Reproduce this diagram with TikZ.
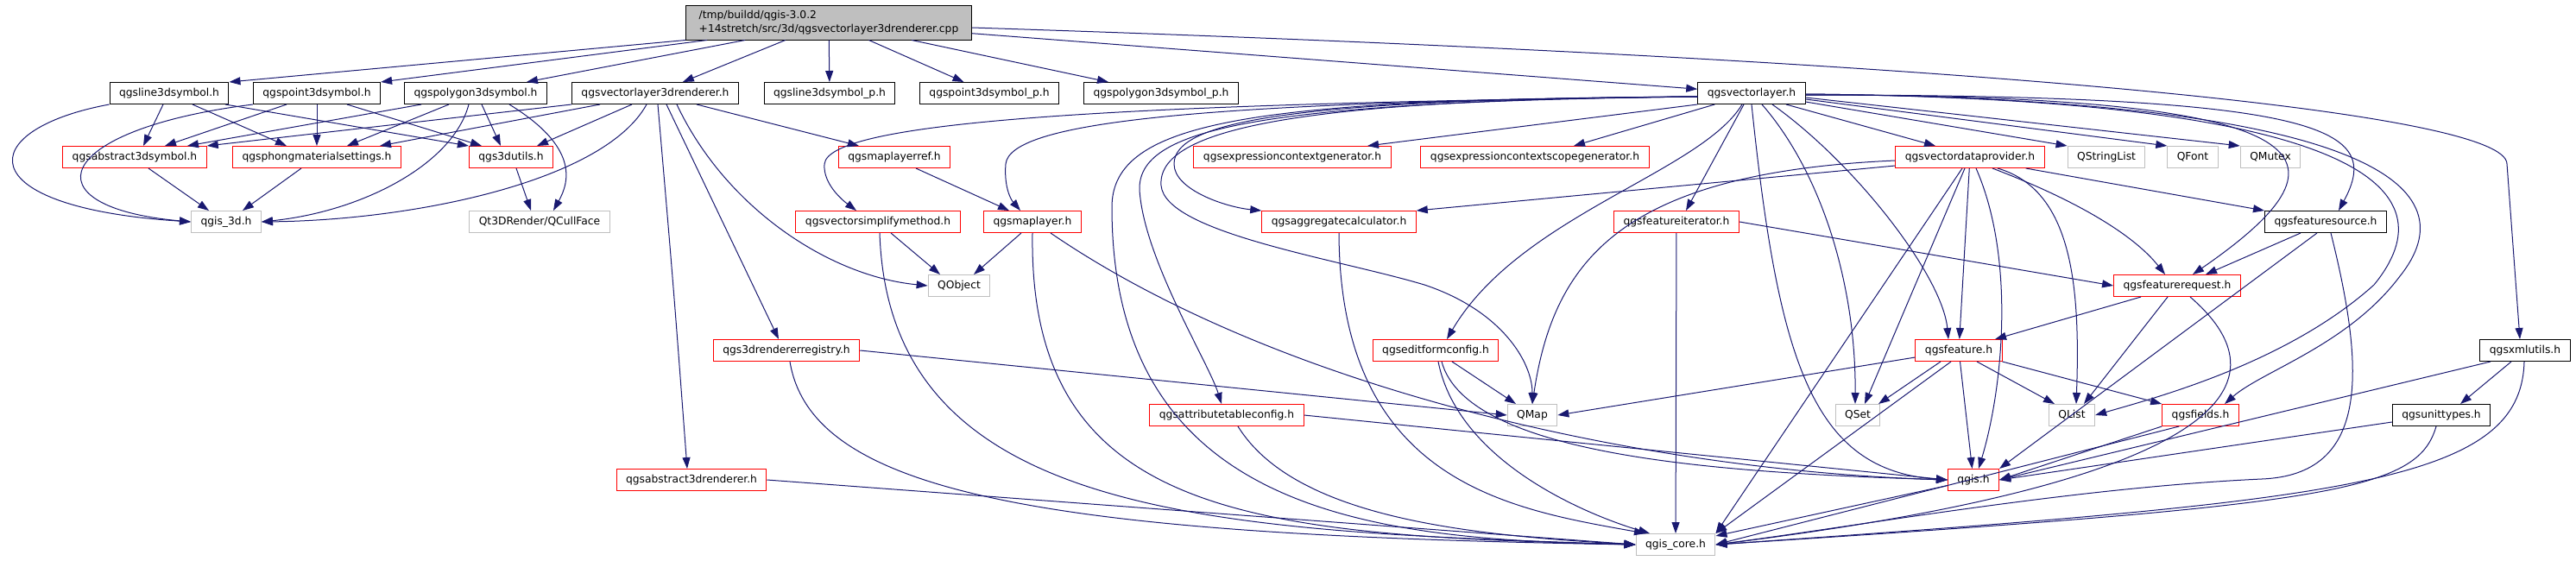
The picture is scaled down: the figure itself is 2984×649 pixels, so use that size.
\documentclass[tikz,border=0pt]{standalone}
\usepackage{fontspec}
\setmainfont{DejaVu Sans}
\usepackage{tikz}
\usetikzlibrary{arrows.meta}
\definecolor{edgeblue}{RGB}{25,25,112}
\definecolor{boxgray}{RGB}{191,191,191}

\begin{document}
\begin{tikzpicture}[x=1pt,y=-1pt,>={Triangle[length=13pt,width=9pt]},
  box/.style={draw,line width=1pt,inner xsep=11pt,inner ysep=0pt,minimum height=25pt,
    font=\fontsize{12.3}{15.5}\selectfont},
  blackbox/.style={box,draw=black},
  redbox/.style={box,draw=red},
  graybox/.style={box,draw=boxgray},
  mainbox/.style={box,draw=black,fill=boxgray,align=left,minimum width=331pt,minimum height=40pt,inner xsep=8pt},
  dep/.style={->,draw=edgeblue,line width=1pt}]
  \useasboundingbox (0,0) rectangle (2984,649);

  \node[mainbox] (main) at (960,26) {/tmp/buildd/qgis-3.0.2\\+14stretch/src/3d/qgsvectorlayer3drenderer.cpp};

  \node[blackbox] (line3d) at (196,108) {qgsline3dsymbol.h};
  \node[blackbox] (point3d) at (367,108) {qgspoint3dsymbol.h};
  \node[blackbox] (polygon3d) at (551,108) {qgspolygon3dsymbol.h};
  \node[blackbox] (vl3d) at (759,108) {qgsvectorlayer3drenderer.h};
  \node[blackbox] (line3dp) at (961,108) {qgsline3dsymbol\_p.h};
  \node[blackbox] (point3dp) at (1146,108) {qgspoint3dsymbol\_p.h};
  \node[blackbox] (polygon3dp) at (1345,108) {qgspolygon3dsymbol\_p.h};
  \node[blackbox] (vectorlayer) at (2029,108) {qgsvectorlayer.h};

  \node[redbox] (abstract3dsymbol) at (156,182) {qgsabstract3dsymbol.h};
  \node[redbox] (phong) at (367,182) {qgsphongmaterialsettings.h};
  \node[redbox] (utils3d) at (592,182) {qgs3dutils.h};
  \node[redbox] (maplayerref) at (1036,182) {qgsmaplayerref.h};
  \node[redbox] (exprctxgen) at (1497,182) {qgsexpressioncontextgenerator.h};
  \node[redbox] (exprctxscopegen) at (1778,182) {qgsexpressioncontextscopegenerator.h};
  \node[redbox] (vdataprovider) at (2282,182) {qgsvectordataprovider.h};
  \node[graybox] (qstringlist) at (2440,182) {QStringList};
  \node[graybox] (qfont) at (2540,182) {QFont};
  \node[graybox] (qmutex) at (2630,182) {QMutex};

  \node[graybox] (qgis3d) at (262,257) {qgis\_3d.h};
  \node[graybox] (qcullface) at (625,257) {Qt3DRender/QCullFace};
  \node[redbox] (simplifymethod) at (1017,257) {qgsvectorsimplifymethod.h};
  \node[redbox] (maplayer) at (1196,257) {qgsmaplayer.h};
  \node[redbox] (aggcalc) at (1551,257) {qgsaggregatecalculator.h};
  \node[redbox] (featureiterator) at (1942,257) {qgsfeatureiterator.h};
  \node[blackbox] (featuresource) at (2694,257) {qgsfeaturesource.h};

  \node[graybox] (qobject) at (1111,331) {QObject};
  \node[redbox] (featurerequest) at (2522,331) {qgsfeaturerequest.h};

  \node[redbox] (rendererregistry) at (911,406) {qgs3drendererregistry.h};
  \node[redbox] (editformconfig) at (1663,406) {qgseditformconfig.h};
  \node[redbox] (feature) at (2269,406) {qgsfeature.h};
  \node[blackbox] (xmlutils) at (2925,406) {qgsxmlutils.h};

  \node[redbox] (attrtableconfig) at (1421,481) {qgsattributetableconfig.h};
  \node[graybox] (qmap) at (1775,481) {QMap};
  \node[graybox] (qset) at (2152,481) {QSet};
  \node[graybox] (qlist) at (2400,481) {QList};
  \node[redbox] (fields) at (2549,481) {qgsfields.h};
  \node[blackbox] (unittypes) at (2828,481) {qgsunittypes.h};

  \node[redbox] (abstract3drenderer) at (801,556) {qgsabstract3drenderer.h};
  \node[redbox] (qgis) at (2286,556) {qgis.h};
  \node[graybox] (qgiscore) at (1941,631) {qgis\_core.h};

  \draw[dep] (main.south west) -- (line3d.north east);
  \draw[dep] ([xshift=25]main.south west) -- (point3d.north east);
  \draw[dep] ([xshift=69]main.south west) -- ([xshift=-24]polygon3d.north east);
  \draw[dep] (main) -- (vl3d);
  \draw[dep] (main) -- (line3dp);
  \draw[dep] (main) -- (point3dp);
  \draw[dep] (main) -- (polygon3dp);
  \draw[dep] (main) -- (vectorlayer);
  \draw[dep] ([yshift=-6]main.east) .. controls (2300,70) and (2904,130) .. (2904,190) -- ([xshift=-6]xmlutils.north);

  \draw[dep] (line3d.south west) .. controls (-30,150) and (-40,240) .. (qgis3d.west);
  \draw[dep] ([xshift=-7]line3d.south) -- ([xshift=10]abstract3dsymbol.north);
  \draw[dep] ([xshift=27]line3d.south) -- ([xshift=-35]phong.north);
  \draw[dep] ([xshift=65]line3d.south) -- (utils3d.north west);

  \draw[dep] (point3d.south west) .. controls (60,150) and (30,240) .. (qgis3d.west);
  \draw[dep] ([xshift=-35]point3d.south) -- ([xshift=35]abstract3dsymbol.north);
  \draw[dep] (point3d) -- (phong);
  \draw[dep] ([xshift=35]point3d.south) -- ([xshift=-34]utils3d.north);

  \draw[dep] ([xshift=-63]polygon3d.south) -- ([xshift=61]abstract3dsymbol.north);
  \draw[dep] ([xshift=-31]polygon3d.south) -- ([xshift=35]phong.north);
  \draw[dep] ([xshift=7]polygon3d.south) -- ([xshift=-12]utils3d.north);
  \draw[dep] ([xshift=-8]polygon3d.south) .. controls (525,190) and (420,245) .. (qgis3d.east);
  \draw[dep] ([xshift=39]polygon3d.south) .. controls (670,170) and (660,210) .. ([xshift=16]qcullface.north);

  \draw[dep] (vl3d.south west) -- (abstract3dsymbol.north east);
  \draw[dep] ([xshift=-64]vl3d.south) -- ([xshift=73]phong.north);
  \draw[dep] ([xshift=-27]vl3d.south) -- ([xshift=30]utils3d.north);
  \draw[dep] ([xshift=-10]vl3d.south) .. controls (700,210) and (480,255) .. (qgis3d.east);
  \draw[dep] ([xshift=3]vl3d.south) .. controls (780,330) .. ([xshift=-5]abstract3drenderer.north);
  \draw[dep] ([xshift=13]vl3d.south) -- ([xshift=-9]rendererregistry.north);
  \draw[dep] ([xshift=25]vl3d.south) .. controls (840,240) and (960,320) .. (qobject.west);
  \draw[dep] ([xshift=48]vl3d.south) -- ([xshift=-41]maplayerref.north);

  \draw[dep] ([xshift=16]abstract3dsymbol.south) -- ([xshift=-20]qgis3d.north);
  \draw[dep] ([xshift=-18]phong.south) -- ([xshift=19]qgis3d.north);
  \draw[dep] ([xshift=6]utils3d.south) -- ([xshift=-10]qcullface.north);

  \draw[dep] ([xshift=25]maplayerref.south) -- ([xshift=-27]maplayer.north);
  \draw[dep] ([xshift=-13]maplayer.south) -- ([xshift=17]qobject.north);
  \draw[dep] (maplayer.south) .. controls (1191,600) and (1450,620) .. (qgiscore.west);
  \draw[dep] ([xshift=21]maplayer.south) .. controls (1480,450) and (1900,545) .. (qgis.west);

  \draw[dep] ([xshift=15]simplifymethod.south) -- ([xshift=-22]qobject.north);
  \draw[dep] ([xshift=2]simplifymethod.south) .. controls (1030,600) and (1400,615) .. (qgiscore.west);

  \draw[dep] (rendererregistry.east) -- (qmap.west);
  \draw[dep] ([xshift=4]rendererregistry.south) .. controls (940,570) and (1200,620) .. (qgiscore.west);
  \draw[dep] (abstract3drenderer.east) -- (qgiscore.west);

  \draw[dep] ([yshift=-4]vectorlayer.west) .. controls (1300,120) and (960,140) .. (955,190) .. controls (953,215) and (980,235) .. ([xshift=-25]simplifymethod.north);
  \draw[dep] ([yshift=-4]vectorlayer.west) .. controls (1400,118) and (1170,140) .. (1165,190) .. controls (1163,215) and (1170,230) .. ([xshift=-14]maplayer.north);
  \draw[dep] ([yshift=-4]vectorlayer.west) .. controls (1450,115) and (1288,140) .. (1288,240) .. controls (1288,600) and (1600,625) .. (qgiscore.west);
  \draw[dep] ([yshift=-4]vectorlayer.west) .. controls (1450,118) and (1318,150) .. (1320,220) .. controls (1325,300) and (1400,420) .. ([xshift=-6]attrtableconfig.north);
  \draw[dep] ([yshift=-4]vectorlayer.west) .. controls (1500,115) and (1340,150) .. (1345,215) .. controls (1350,270) and (1550,300) .. (1650,330) .. controls (1740,360) and (1775,420) .. (qmap.north);
  \draw[dep] ([yshift=-4]vectorlayer.west) .. controls (1500,115) and (1360,140) .. (1360,190) .. controls (1360,220) and (1420,240) .. (aggcalc.north west);
  \draw[dep] (vectorlayer.south west) -- ([xshift=87]exprctxgen.north);
  \draw[dep] ([xshift=20]vectorlayer.south west) -- ([xshift=45]exprctxscopegen.north);
  \draw[dep] ([xshift=-9]vectorlayer.south) -- ([xshift=11]featureiterator.north);
  \draw[dep] ([xshift=-11]vectorlayer.south) .. controls (1970,200) and (1760,250) .. ([xshift=13]editformconfig.north);
  \draw[dep] (vectorlayer.south) .. controls (2060,420) and (2100,545) .. (qgis.west);
  \draw[dep] ([xshift=12]vectorlayer.south) .. controls (2110,200) and (2150,330) .. ([xshift=-3]qset.north);
  \draw[dep] ([xshift=24]vectorlayer.south) .. controls (2150,190) and (2250,320) .. ([xshift=-12]feature.north);
  \draw[dep] ([xshift=40]vectorlayer.south) -- ([xshift=-40]vdataprovider.north);
  \draw[dep] ([yshift=-10]vectorlayer.east) -- (qstringlist.north west);
  \draw[dep] ([yshift=-7]vectorlayer.east) -- (qfont.north west);
  \draw[dep] ([yshift=-5]vectorlayer.east) -- (qmutex.north west);
  \draw[dep] ([yshift=-2]vectorlayer.east) .. controls (2700,110) and (2740,180) .. ([xshift=18]featurerequest.north);
  \draw[dep] ([yshift=-2]vectorlayer.east) .. controls (2700,110) and (2760,150) .. ([xshift=15]featuresource.north);
  \draw[dep] ([yshift=-1]vectorlayer.east) .. controls (2760,115) and (2860,220) .. (2780,320) .. controls (2720,400) and (2620,430) .. ([xshift=28]fields.north);
  \draw[dep] ([yshift=-1]vectorlayer.east) .. controls (2740,115) and (2840,220) .. (2750,330) .. controls (2650,420) and (2500,460) .. (qlist.east);

  \draw[dep] ([yshift=-10]vdataprovider.west) -- (aggcalc.north east);
  \draw[dep] ([yshift=-4]vdataprovider.west) .. controls (1880,200) and (1800,300) .. (qmap.north);
  \draw[dep] ([xshift=-9]vdataprovider.south) -- (qgiscore.north east);
  \draw[dep] ([xshift=-6]vdataprovider.south) -- ([xshift=8]qset.north);
  \draw[dep] (vdataprovider) -- (feature);
  \draw[dep] ([xshift=7]vdataprovider.south) .. controls (2335,300) and (2320,450) .. ([xshift=6]qgis.north);
  \draw[dep] ([xshift=32]vdataprovider.south) .. controls (2400,220) and (2410,330) .. ([xshift=5]qlist.north);
  \draw[dep] ([xshift=26]vdataprovider.south) .. controls (2400,230) and (2470,270) .. ([xshift=-14]featurerequest.north);
  \draw[dep] ([xshift=-22]vdataprovider.south east) -- (featuresource.north west);

  \draw[dep] (featureiterator.east) -- (featurerequest.west);
  \draw[dep] (featureiterator) -- (qgiscore);
  \draw[dep] (aggcalc.south) .. controls (1552,560) and (1750,590) .. ([xshift=-35]qgiscore.north);

  \draw[dep] ([xshift=-29]featuresource.south) -- ([xshift=33]featurerequest.north);
  \draw[dep] ([xshift=-10]featuresource.south) -- (qgis.north east);
  \draw[dep] ([xshift=6]featuresource.south) .. controls (2740,430) and (2745,550) .. (2620,555) .. controls (2400,565) and (2150,610) .. (qgiscore.east);

  \draw[dep] ([xshift=-42]featurerequest.south) -- ([xshift=42]feature.north);
  \draw[dep] ([xshift=-11]featurerequest.south) -- ([xshift=14]qlist.north);
  \draw[dep] ([xshift=15]featurerequest.south) .. controls (2660,450) and (2560,560) .. (qgiscore.east);

  \draw[dep] ([yshift=-8]feature.west) -- (qmap.east);
  \draw[dep] ([xshift=-21]feature.south) -- ([xshift=24]qset.north);
  \draw[dep] ([xshift=-9]feature.south) -- (qgiscore.north east);
  \draw[dep] (feature) -- (qgis);
  \draw[dep] ([xshift=21]feature.south) -- ([xshift=-20]qlist.north);
  \draw[dep] (feature.south east) -- (fields.north west);

  \draw[dep] (fields.south west) -- (qgis.east);
  \draw[dep] ([xshift=20]fields.south west) -- (qgiscore.east);

  \draw[dep] ([xshift=-40]xmlutils.south) -- (qgis.east);
  \draw[dep] ([xshift=-16]xmlutils.south) -- ([xshift=22]unittypes.north);
  \draw[dep] ([xshift=-1]xmlutils.south) .. controls (2920,560) and (2720,580) .. (qgiscore.east);
  \draw[dep] ([yshift=-8]unittypes.west) -- (qgis.east);
  \draw[dep] ([xshift=-6]unittypes.south) .. controls (2800,570) and (2700,585) .. (qgiscore.east);
  \draw[dep] (qgis) -- (qgiscore);

  \draw[dep] ([xshift=19]editformconfig.south) -- ([xshift=-19]qmap.north);
  \draw[dep] ([xshift=3]editformconfig.south) .. controls (1690,540) and (1850,600) .. ([xshift=-30]qgiscore.north);
  \draw[dep] ([xshift=7]editformconfig.south) .. controls (1700,530) and (2000,548) .. (qgis.west);

  \draw[dep] ([xshift=13]attrtableconfig.south) .. controls (1500,600) and (1700,620) .. (qgiscore.west);
  \draw[dep] (attrtableconfig.east) -- (qgis.west);
\end{tikzpicture}
\end{document}
